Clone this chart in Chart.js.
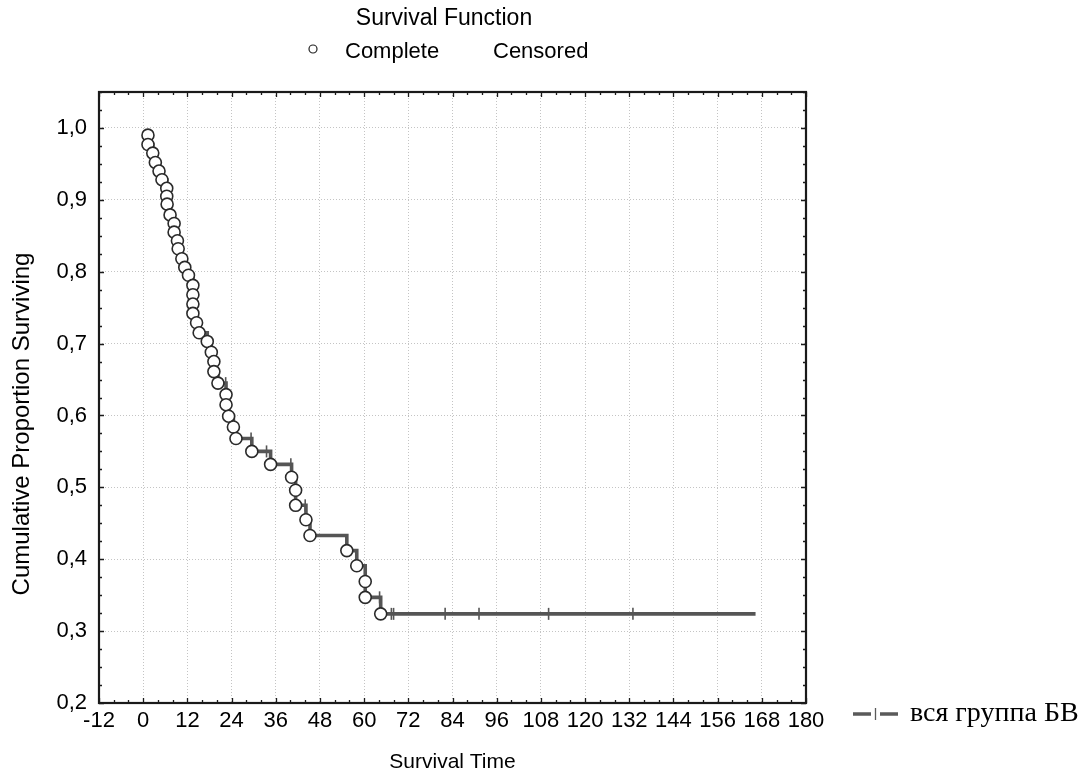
<!DOCTYPE html>
<html>
<head>
<meta charset="utf-8">
<script src="https://cdn.jsdelivr.net/npm/chart.js@4/dist/chart.umd.min.js"></script>
<style>
  html, body { margin: 0; padding: 0; background: #fff; }
</style>
</head>
<body>
<canvas id="survivalChart" width="1091" height="783"></canvas>
<script>
// complete (event) observations
const eventTime = [1.3, 1.3, 2.6, 3.3, 4.3, 5.1, 6.4, 6.4, 6.5, 7.3, 8.4, 8.4, 9.3, 9.5, 10.5, 11.3, 12.3,
  13.5, 13.5, 13.5, 13.5, 14.5, 15.2, 17.4, 18.5, 19.2, 19.2, 20.3, 22.5, 22.5, 23.2, 24.5, 25.2,
  29.5, 34.6, 40.3, 41.4, 41.4, 44.2, 45.3, 55.3, 58.0, 60.3, 60.3, 64.5];
const eventSurv = [0.990, 0.977, 0.965, 0.952, 0.940, 0.928, 0.916, 0.905, 0.894, 0.879, 0.867, 0.855, 0.843, 0.832, 0.818, 0.806, 0.795,
  0.781, 0.768, 0.755, 0.742, 0.729, 0.715, 0.703, 0.688, 0.675, 0.661, 0.645, 0.629, 0.615, 0.599, 0.584, 0.568,
  0.550, 0.532, 0.514, 0.496, 0.475, 0.455, 0.433, 0.412, 0.391, 0.369, 0.347, 0.324];

// censored observations
const censTime = [22.4, 29.3, 33.5, 40.1, 44.0, 64.2, 67.4, 68.0, 82.0, 91.2, 110.1, 133.0];
const censSurv = [0.645, 0.568, 0.550, 0.532, 0.475, 0.347, 0.324, 0.324, 0.324, 0.324, 0.324, 0.324];

const lastFollowUp = 166.3;

const xTicks = [-12, 0, 12, 24, 36, 48, 60, 72, 84, 96, 108, 120, 132, 144, 156, 168, 180];
const yTicks = [0.2, 0.3, 0.4, 0.5, 0.6, 0.7, 0.8, 0.9, 1.0];

const stepData = eventTime.map((t, i) => ({ x: t, y: eventSurv[i] }));
stepData.push({ x: lastFollowUp, y: eventSurv[eventSurv.length - 1] });
const completeData = eventTime.map((t, i) => ({ x: t, y: eventSurv[i] }));
const censoredData = censTime.map((t, i) => ({ x: t, y: censSurv[i] }));

const FONT = "'Liberation Sans', Arial, sans-serif";

// frame, inward ticks, y title and the two legends
const decorations = {
  id: 'decorations',
  afterDraw(chart) {
    const { ctx, chartArea: a, scales: { x, y } } = chart;
    ctx.save();
    ctx.strokeStyle = '#1a1a1a';
    ctx.lineWidth = 1.3;
    ctx.beginPath();
    for (let v = xTicks[0]; v <= xTicks[xTicks.length - 1]; v += 4) {
      const px = Math.round(x.getPixelForValue(v)) + 0.5;
      const len = v % 12 === 0 ? 5 : 3;
      ctx.moveTo(px, a.bottom); ctx.lineTo(px, a.bottom - len);
      ctx.moveTo(px, a.top); ctx.lineTo(px, a.top + len);
    }
    for (let k = 0; k <= 34; k++) {
      const py = Math.round(y.getPixelForValue(0.2 + k * 0.025)) + 0.5;
      const len = k % 4 === 0 ? 5 : 3;
      ctx.moveTo(a.left, py); ctx.lineTo(a.left + len, py);
      ctx.moveTo(a.right, py); ctx.lineTo(a.right - len, py);
    }
    ctx.stroke();

    ctx.lineWidth = 2.2;
    ctx.strokeRect(a.left, a.top, a.right - a.left, a.bottom - a.top);

    ctx.fillStyle = '#000';
    ctx.textBaseline = 'middle';

    // y axis title
    ctx.save();
    ctx.translate(22, 424);
    ctx.rotate(-Math.PI / 2);
    ctx.textAlign = 'center';
    ctx.font = '24px ' + FONT;
    ctx.fillText('Cumulative Proportion Surviving', 0, 0);
    ctx.restore();

    // top legend
    ctx.font = '23px ' + FONT;
    ctx.textAlign = 'center';
    ctx.fillText('Survival Function', 444, 19);
    ctx.textAlign = 'left';
    ctx.font = '22px ' + FONT;
    ctx.fillText('Complete', 345, 52);
    ctx.fillText('Censored', 493, 52);
    ctx.lineWidth = 1.2;
    ctx.strokeStyle = '#222';
    ctx.beginPath();
    ctx.arc(313, 49, 4, 0, Math.PI * 2);
    ctx.stroke();

    // bottom-right legend
    const ly = 714;
    ctx.strokeStyle = '#5a5a5a';
    ctx.lineWidth = 3.5;
    ctx.beginPath();
    ctx.moveTo(853, ly); ctx.lineTo(871, ly);
    ctx.moveTo(880, ly); ctx.lineTo(898, ly);
    ctx.stroke();
    ctx.lineWidth = 1.3;
    ctx.beginPath();
    ctx.moveTo(875.5, ly - 6); ctx.lineTo(875.5, ly + 6);
    ctx.stroke();
    ctx.fillStyle = '#000';
    ctx.font = "28px 'Liberation Serif', 'Times New Roman', serif";
    ctx.fillText('вся группа БВ', 910, ly);
    ctx.restore();
  }
};

Chart.defaults.font.family = FONT;
Chart.defaults.color = '#000';

new Chart(document.getElementById('survivalChart').getContext('2d'), {
  type: 'scatter',
  data: {
    datasets: [
      {
        label: 'вся группа БВ',
        data: stepData,
        showLine: true,
        stepped: true,
        borderColor: '#555',
        borderWidth: 3.6,
        pointRadius: 0,
        order: 3
      },
      {
        label: 'Censored',
        data: censoredData,
        pointStyle: 'line',
        rotation: 90,
        pointRadius: 6,
        borderColor: '#555',
        borderWidth: 1.6,
        order: 2
      },
      {
        label: 'Complete',
        data: completeData,
        pointStyle: 'circle',
        pointRadius: 6,
        backgroundColor: '#fff',
        borderColor: '#2a2a2a',
        borderWidth: 1.6,
        order: 1
      }
    ]
  },
  options: {
    responsive: false,
    animation: false,
    layout: { padding: { left: 0, top: 92, right: 285, bottom: 0 } },
    plugins: { legend: { display: false }, tooltip: { enabled: false } },
    scales: {
      x: {
        type: 'linear',
        min: -12,
        max: 180,
        afterFit: s => { s.height = 80; },
        afterBuildTicks: s => { s.ticks = xTicks.map(v => ({ value: v })); },
        grid: { color: '#c4c4c4', drawTicks: false, lineWidth: 1 },
        border: { display: false, dash: [1, 2] },
        ticks: { padding: 5, maxRotation: 0, autoSkip: false, font: { size: 22 } },
        title: { display: true, text: 'Survival Time', font: { size: 21 }, padding: { top: 0, bottom: 8 } }
      },
      y: {
        type: 'linear',
        min: 0.2,
        max: 1.05,
        afterFit: s => { s.width = 99; },
        afterBuildTicks: s => { s.ticks = yTicks.map(v => ({ value: v })); },
        grid: { color: '#c4c4c4', drawTicks: false, lineWidth: 1 },
        border: { display: false, dash: [1, 2] },
        ticks: {
          padding: 12,
          font: { size: 22 },
          callback: v => v.toFixed(1).replace('.', ',')
        }
      }
    }
  },
  plugins: [decorations]
});
</script>
</body>
</html>
